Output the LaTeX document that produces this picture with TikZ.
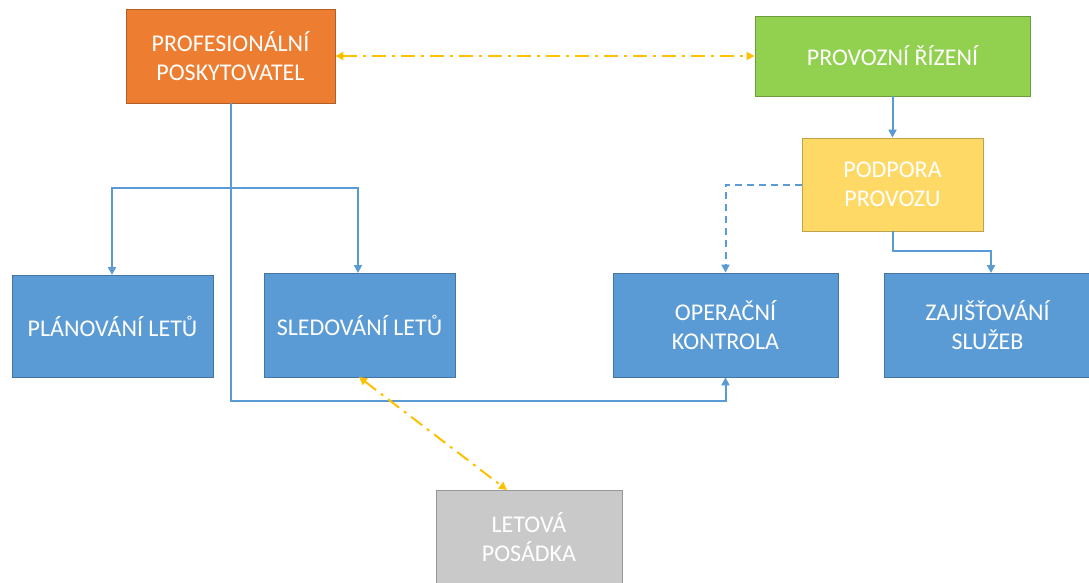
\documentclass[tikz,border=0pt]{standalone}
\usepackage{fontspec}
\setmainfont{Carlito}
\usetikzlibrary{arrows.meta}
\definecolor{cblue}{HTML}{5B9BD5}
\definecolor{corange}{HTML}{ED7D31}
\definecolor{cgreen}{HTML}{92D050}
\definecolor{cyellow}{HTML}{FFD966}
\definecolor{cgray}{HTML}{C9C9C9}
\definecolor{cgold}{HTML}{FFC000}
\definecolor{cline}{HTML}{5B9BD5}
\tikzset{
  box/.style={draw=#1!75!black, fill=#1, line width=0.8pt, text=white,
    align=center, inner sep=0pt,
    font=\fontsize{24}{29}\selectfont},
  conn/.style={draw=cline, line width=2pt, -{Triangle[length=8pt,width=8pt]}},
  dconn/.style={conn, dash pattern=on 7pt off 5pt},
  gconn/.style={draw=cgold, line width=2pt, dash pattern=on 14pt off 6pt on 3pt off 6pt,
    {Triangle[length=8pt,width=8pt]}-{Triangle[length=8pt,width=8pt]}},
}
\begin{document}
\begin{tikzpicture}[x=1pt,y=-1pt]
\useasboundingbox (0,0) rectangle (1089,583);
\node[box=corange, minimum width=209pt, minimum height=94pt] (prof) at (230.5,56) {PROFESIONÁLNÍ\\POSKYTOVATEL};
\node[box=cgreen, minimum width=275pt, minimum height=80pt] (rizeni) at (892.5,56) {PROVOZNÍ ŘÍZENÍ};
\node[box=cyellow, minimum width=181pt, minimum height=93pt] (podpora) at (892.5,184.5) {PODPORA\\PROVOZU};
\node[box=cblue, minimum width=201pt, minimum height=102pt] (plan) at (112.5,326) {PLÁNOVÁNÍ LETŮ};
\node[box=cblue, minimum width=191pt, minimum height=104pt] (sled) at (359.5,325) {SLEDOVÁNÍ LETŮ};
\node[box=cblue, minimum width=225pt, minimum height=104pt] (oper) at (725.5,325) {OPERAČNÍ\\KONTROLA};
\node[box=cblue, minimum width=207pt, minimum height=104pt] (zaj) at (987.5,325) {ZAJIŠŤOVÁNÍ\\SLUŽEB};
\node[box=cgray, minimum width=186pt, minimum height=110pt, text depth=0pt] (crew) at (529,545) {};
\node[text=white, align=center, font=\fontsize{24}{29}\selectfont] (crewt) at (529,537) {LETOVÁ\\POSÁDKA};

\coordinate (j) at (230.5,188);
\draw[conn] (prof.south) -- (j) -| (112,275);
\draw[conn] (j) -| (358,273);
\draw[conn] (j) |- (230.5,401) -| (oper.south);
\draw[gconn] (prof.east) -- (rizeni.west);
\draw[conn] (rizeni.south) -- (podpora.north);
\draw[dconn] (podpora.west) -| (oper.north);
\draw[conn] (podpora.south) |- (991,251) -- (991,273);
\draw[gconn] (359,377) -- (507,490);
\end{tikzpicture}
\end{document}
